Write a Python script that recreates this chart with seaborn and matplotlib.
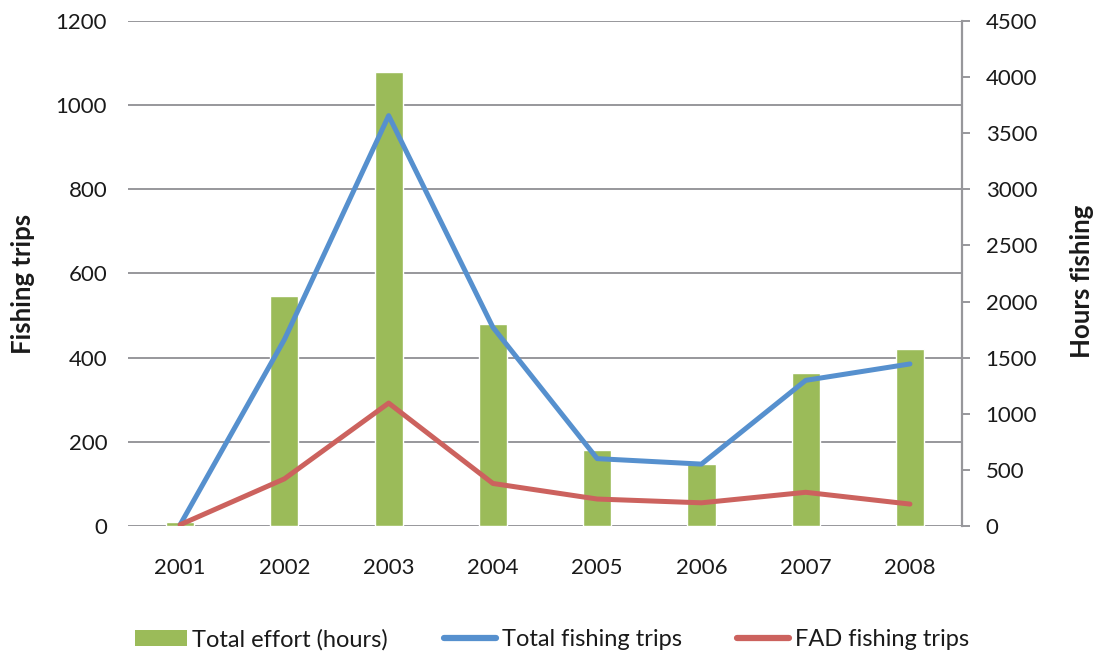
import matplotlib
matplotlib.use("Agg")
import matplotlib.pyplot as plt
from matplotlib.patches import Patch
from matplotlib.lines import Line2D
from matplotlib.ticker import MultipleLocator
import pandas as pd
import seaborn as sns

# Fishing effort by year
years = ["2001", "2002", "2003", "2004", "2005", "2006", "2007", "2008"]
effort_hours = [35, 2050, 4045, 1800, 677, 552, 1365, 1577]
total_trips = [3, 443, 975, 472, 160, 147, 346, 385]
fad_trips = [3, 112, 292, 101, 64, 55, 80, 52]

GREEN = "#9BBB59"
BLUE = "#5690CE"
RED = "#CC625E"
GRID = "#97979B"
TEXT = "#1a1a1a"
TICK_FS = 16
LABEL_FS = 18.5

sns.set_theme(style="white")
plt.rcParams["font.family"] = ["Lato", "DejaVu Sans"]

df = pd.DataFrame({"year": years, "hours": effort_hours,
                   "total": total_trips, "fad": fad_trips})

fig = plt.figure(figsize=(10.97, 6.55), dpi=100)
ax = fig.add_axes([0.1167, 0.197, 0.7603, 0.771])   # trips (left scale), lines
ax2 = ax.twinx()                                      # hours (right scale), bars

# Bars on the hours axis
sns.barplot(data=df, x="year", y="hours", color=GREEN, saturation=1,
            width=0.27, ax=ax2, zorder=2)
ax2.set_ylim(0, 4500)
ax2.yaxis.set_major_locator(MultipleLocator(500))
# gridlines follow the left scale (every 200 trips = 750 hours)
ax2.yaxis.remove_overlapping_locs = False
ax2.yaxis.set_minor_locator(MultipleLocator(750))
ax2.set_axisbelow(True)
ax2.grid(which="minor", axis="y", color=GRID, linewidth=1.4, zorder=0)
ax2.grid(which="major", visible=False)
ax2.tick_params(axis="y", which="minor", length=0)
ax2.tick_params(axis="y", which="major", right=True, length=6, width=1.4,
                color=GRID, direction="out", pad=11, labelsize=TICK_FS,
                labelcolor=TEXT)
ax2.set_ylabel("Hours fishing", fontsize=LABEL_FS, fontweight="bold",
               color=TEXT)
ax2.yaxis.set_label_coords(1.129, 0.485)
for s in ["left", "top", "bottom"]:
    ax2.spines[s].set_visible(False)
ax2.spines["right"].set_color(GRID)
ax2.spines["right"].set_linewidth(1.6)

# Lines on the trips axis
sns.lineplot(data=df, x="year", y="total", color=BLUE, linewidth=3.6,
             solid_capstyle="round", ax=ax, sort=False)
sns.lineplot(data=df, x="year", y="fad", color=RED, linewidth=3.6,
             solid_capstyle="round", ax=ax, sort=False)
ax.set_ylim(0, 1200)
ax.yaxis.set_major_locator(MultipleLocator(200))
ax.set_xlim(-0.5, len(years) - 0.5)
ax.tick_params(axis="y", length=0, pad=15, labelsize=TICK_FS, labelcolor=TEXT)
ax.tick_params(axis="x", length=0, pad=23, labelsize=TICK_FS, labelcolor=TEXT)
ax.set_ylabel("Fishing trips", fontsize=LABEL_FS, fontweight="bold",
              color=TEXT)
ax.yaxis.set_label_coords(-0.112, 0.48)
ax.set_xlabel("")
ax2.set_xlabel("")
for s in ax.spines.values():
    s.set_visible(False)

ax.set_zorder(ax2.get_zorder() + 1)
ax.patch.set_visible(False)

handles = [
    Patch(facecolor=GREEN, edgecolor="none", label="Total effort (hours)"),
    Line2D([0], [0], color=BLUE, linewidth=4.5, solid_capstyle="round",
           label="Total fishing trips"),
    Line2D([0], [0], color=RED, linewidth=4.5, solid_capstyle="round",
           label="FAD fishing trips"),
]
fig.legend(handles=handles, loc="lower center", bbox_to_anchor=(0.503, -0.025),
           ncol=3, frameon=False, fontsize=17, handlelength=2.2,
           handleheight=0.65, handletextpad=0.25, columnspacing=2.35,
           labelcolor=TEXT)

fig.savefig("out.png", dpi=100, facecolor="white")
